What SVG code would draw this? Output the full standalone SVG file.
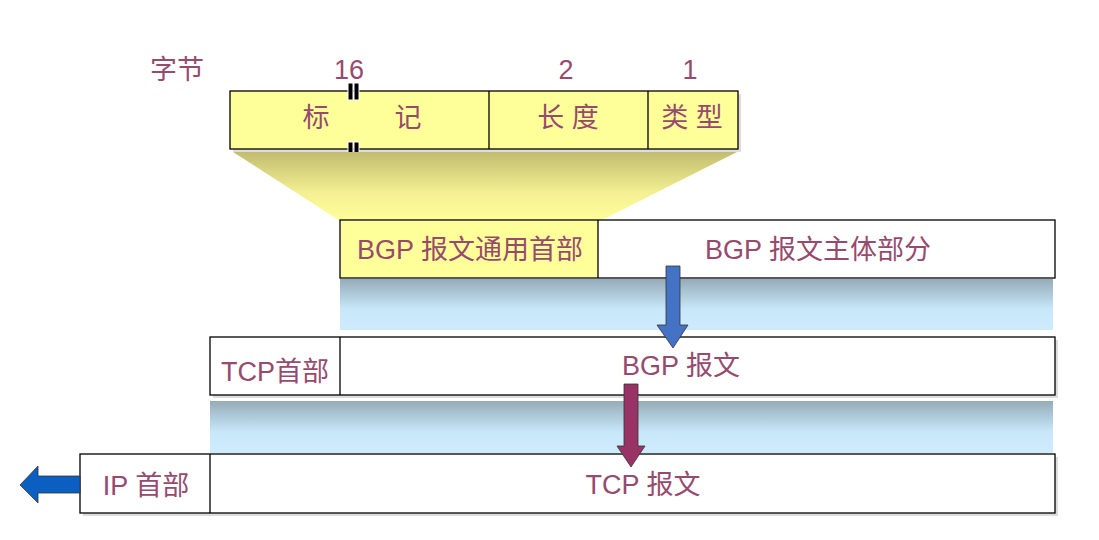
<svg xmlns="http://www.w3.org/2000/svg" width="1099" height="540" viewBox="0 0 1099 540">
<style>
text{font-family:"Liberation Sans","Noto Sans CJK SC",sans-serif;fill:#964a6e;font-size:27px;text-anchor:middle}
.box{stroke:#000;stroke-width:1.3}
.sh{fill:#ddd}
</style>
<defs>
<linearGradient id="band" x1="0" y1="0" x2="0" y2="1"><stop offset="0" stop-color="#95acb8"/><stop offset="0.6" stop-color="#c8e8fa"/><stop offset="1" stop-color="#cdebfc"/></linearGradient>
<linearGradient id="trap" x1="0" y1="0" x2="0" y2="1"><stop offset="0" stop-color="#c2bd6e"/><stop offset="0.6" stop-color="#f4f094"/><stop offset="1" stop-color="#ffff99"/></linearGradient>
</defs>
<rect width="1099" height="540" fill="#fff"/>
<g id="header">
<text x="177" y="79" font-size="25">字节</text>
<text x="349" y="79">16</text><text x="566" y="79">2</text><text x="690" y="79">1</text>
<rect x="233" y="94" width="508" height="58" class="sh"/>
<rect x="230" y="91" width="508" height="58" fill="#ffff99" class="box"/>
<line x1="489" y1="91" x2="489" y2="149" class="box"/><line x1="648" y1="91" x2="648" y2="149" class="box"/>
<text x="316" y="127">标</text><text x="408" y="127">记</text><text x="568" y="127">长 度</text><text x="692" y="127">类 型</text>
<g fill="#000" stroke="#fff" stroke-width="1"><rect x="348" y="83" width="5" height="17"/><rect x="354" y="83" width="5" height="17"/><rect x="348" y="142" width="5" height="17"/><rect x="354" y="142" width="5" height="17"/></g>
<polygon points="233,152 737,152 600,221 340,221" fill="url(#trap)"/>
</g>
<g id="bgp">
<rect x="340" y="279" width="713" height="51" fill="url(#band)"/>
<rect x="340" y="220" width="715" height="58" fill="#fff" class="box"/>
<rect x="341" y="221" width="257" height="56" fill="#ffff99"/>
<line x1="598" y1="220" x2="598" y2="278" class="box"/>
<text x="470" y="259">BGP 报文通用首部</text><text x="818" y="259">BGP 报文主体部分</text>
</g>
<g id="tcp">
<rect x="210" y="401" width="843" height="52" fill="url(#band)"/>
<rect x="213" y="340" width="845" height="58" class="sh"/>
<rect x="210" y="337" width="845" height="58" fill="#fff" class="box"/>
<line x1="340" y1="337" x2="340" y2="395" class="box"/>
<text x="275" y="381" font-size="26">TCP首部</text><text x="681" y="375">BGP 报文</text>
</g>
<g id="ip">
<rect x="83" y="457" width="975" height="59" class="sh"/>
<rect x="80" y="454" width="975" height="59" fill="#fff" class="box"/>
<line x1="210" y1="454" x2="210" y2="513" class="box"/>
<text x="146" y="495">IP 首部</text><text x="643" y="494">TCP 报文</text>
</g>
<g id="connectors" stroke="#333" stroke-width="0.8">
<polygon points="666,266 680,266 680,325 688,325 673,348 657,325 666,325" fill="#4472c4"/>
<polygon points="624,384 638,384 638,446 645,446 631,467 617,446 624,446" fill="#993366"/>
<polygon points="80,476 38,476 38,466 20,485 38,503 38,493 80,493" fill="#0a5fc0"/>
</g>
</svg>
